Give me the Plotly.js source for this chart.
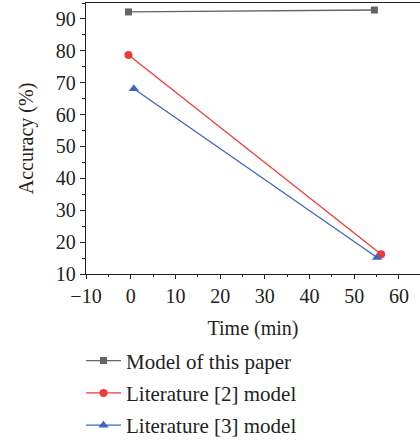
<!DOCTYPE html>
<html>
<head>
<meta charset="utf-8">
<script src="https://cdn.plot.ly/plotly-3.0.1.min.js"></script>
<style>
html,body{margin:0;padding:0;overflow:hidden;background:#fff;}
#chart{width:420px;height:441px;}
</style>
</head>
<body>
<div id="chart"></div>
<script>
var seriesNames = ["Model of this paper", "Literature [2] model", "Literature [3] model"];
var modelX = [-0.5, 54.5];
var modelY = [92.2, 92.8];
var lit2X = [-0.5, 56.0];
var lit2Y = [78.7, 16.2];
var lit3X = [0.7, 55.1];
var lit3Y = [68.1, 15.2];
var xTicks = [-10, 0, 10, 20, 30, 40, 50, 60];
var yTicks = [10, 20, 30, 40, 50, 60, 70, 80, 90];

var colors = ["#646464", "#ef3b36", "#3f63bf"];
var symbols = ["square", "circle", "triangle-up"];
var markerSizes = [7, 8, 9];
var xs = [modelX, lit2X, lit3X];
var ys = [modelY, lit2Y, lit3Y];

var traces = seriesNames.map(function(n, i){
  return {
    x: xs[i], y: ys[i], name: n, type: "scatter", mode: "lines+markers",
    legendgroup: "g" + i,
    line: {color: colors[i], width: 1.3},
    marker: {color: colors[i], symbol: symbols[i], size: markerSizes[i]}
  };
});

var font = "'Liberation Serif', 'Times New Roman', serif";
var tc = "#222";
var layout = {
  width: 420, height: 441,
  margin: {l: 86, r: 0, t: 3, b: 167},
  paper_bgcolor: "#fff", plot_bgcolor: "#fff",
  font: {family: font, size: 20, color: tc},
  showlegend: true,
  legend: {
    x: -0.015, xref: "paper", y: 0.228, yref: "container", yanchor: "top", xanchor: "left",
    font: {family: font, size: 21, color: tc},
    itemwidth: 35,
    tracegroupgap: 2, bgcolor: "rgba(0,0,0,0)"
  },
  xaxis: {
    range: [-10, 64.7], tickvals: xTicks, ticktext: xTicks.map(function(v){return v < 0 ? "\u2212" + Math.abs(v) : String(v);}),
    ticks: "outside", ticklen: 4, tickwidth: 1, tickcolor: tc,
    minor: {dtick: 5, ticks: "outside", ticklen: 2, tickcolor: tc},
    showline: true, linecolor: tc, linewidth: 1.2, mirror: true,
    showgrid: false, zeroline: false, automargin: false,
    tickfont: {family: font, size: 20, color: tc},
    title: {text: "Time (min)", font: {family: font, size: 20, color: tc}, standoff: 14}
  },
  yaxis: {
    range: [10, 95], tickvals: yTicks,
    ticks: "outside", ticklen: 5, tickwidth: 1, tickcolor: tc,
    minor: {dtick: 5, ticks: "outside", ticklen: 3, tickcolor: tc},
    showline: true, linecolor: tc, linewidth: 1.2, mirror: false,
    showgrid: false, zeroline: false, automargin: false,
    tickfont: {family: font, size: 20, color: tc},
    title: {text: "Accuracy (%)", font: {family: font, size: 20, color: tc}, standoff: 16}
  }
};

Plotly.newPlot("chart", traces, layout, {displayModeBar: false, staticPlot: true});
</script>
</body>
</html>
